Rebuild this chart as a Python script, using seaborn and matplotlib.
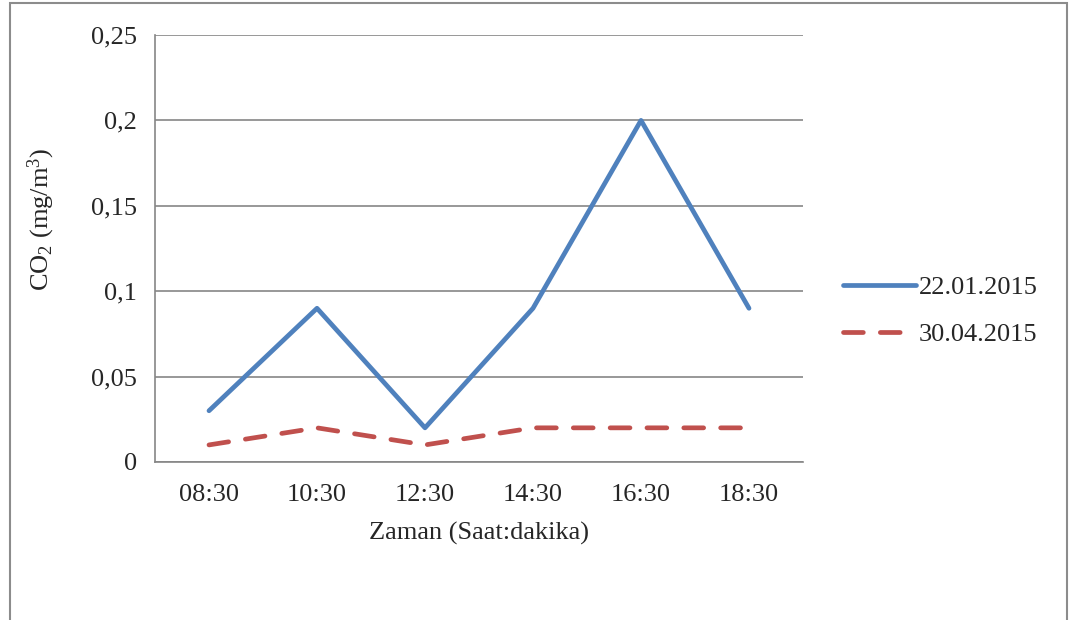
import pandas as pd
import numpy as np

import matplotlib
matplotlib.use("Agg")
import matplotlib.pyplot as plt
import seaborn as sns
from matplotlib.patches import Rectangle

# Daten aus dem Diagramm
zeiten = ['08:30', '10:30', '12:30', '14:30', '16:30', '18:30']
co2_januar = [0.03, 0.09, 0.02, 0.09, 0.20, 0.09]
co2_april = [0.01, 0.02, 0.01, 0.02, 0.02, 0.02]
serien = ['22.01.2015', '30.04.2015']
y_ticks = [0, 0.05, 0.10, 0.15, 0.20, 0.25]
y_tick_labels = ['0', '0,05', '0,1', '0,15', '0,2', '0,25']

df = pd.DataFrame({
    'Zeit': zeiten * 2,
    'CO2': co2_januar + co2_april,
    'Datum': [serien[0]] * len(zeiten) + [serien[1]] * len(zeiten),
})

sns.set_style("white")
plt.rcParams['font.family'] = ['Liberation Serif', 'DejaVu Serif']
plt.rcParams['mathtext.fontset'] = 'custom'
plt.rcParams['mathtext.rm'] = 'Liberation Serif'
plt.rcParams['mathtext.it'] = 'Liberation Serif:italic'

fs = 19
grau = '#868686'

fig = plt.figure(figsize=(10.78, 6.2), dpi=100)
ax = fig.add_axes([155 / 1078, 1 - 462 / 620, (803 - 155) / 1078, (462 - 35) / 620])

# Rahmen um das ganze Diagramm
fig.patches.append(Rectangle((10 / 1078, -0.05), (1067 - 10) / 1078, 1 - 3 / 620 + 0.05,
                             transform=fig.transFigure, fill=False,
                             edgecolor='#8c8c8c', linewidth=1.5))

sns.lineplot(data=df, x='Zeit', y='CO2', hue='Datum', style='Datum',
             palette=['#4F81BD', '#C0504D'], dashes=[(None, None), (4.2, 3.6)],
             linewidth=3.4, sort=False, ax=ax)
for line in ax.lines:
    line.set_dash_capstyle('round')
    line.set_solid_capstyle('round')

ax.set_xlim(-0.5, len(zeiten) - 0.5)
ax.set_ylim(0, 0.25)
ax.set_yticks(y_ticks)
ax.set_yticklabels(y_tick_labels, fontsize=fs)
ax.set_xticks(range(len(zeiten)))
ax.set_xticklabels(zeiten, fontsize=fs)
ax.set_xticks(np.arange(-0.5, len(zeiten), 1), minor=True)
ax.tick_params(axis='x', which='major', length=0, pad=16)
ax.tick_params(axis='x', which='minor', length=7, color=grau, width=1.2, direction='out')
ax.tick_params(axis='y', length=7, color=grau, width=1.2, direction='out', pad=6)
ax.grid(axis='y', color=grau, linewidth=1.2)
ax.set_axisbelow(True)

for s in ['top', 'right']:
    ax.spines[s].set_visible(False)
for s in ['left', 'bottom']:
    ax.spines[s].set_color(grau)
    ax.spines[s].set_linewidth(1.2)

ax.set_xlabel('Zaman (Saat:dakika)', fontsize=fs, labelpad=11)
ax.set_ylabel(r'CO$_\mathrm{2}$ (mg/m$^\mathrm{3}$)', fontsize=fs)
ax.yaxis.set_label_coords(-0.152, (462 - 219) / 427)

leg = ax.legend(title=None, frameon=False, fontsize=fs, handlelength=2.75, handletextpad=0.12,
                labelspacing=0.9, loc='center left', bbox_to_anchor=(843 / 1078, 1 - 311 / 620),
                bbox_transform=fig.transFigure, borderaxespad=0, borderpad=0)

plt.savefig('out.png', dpi=100)
